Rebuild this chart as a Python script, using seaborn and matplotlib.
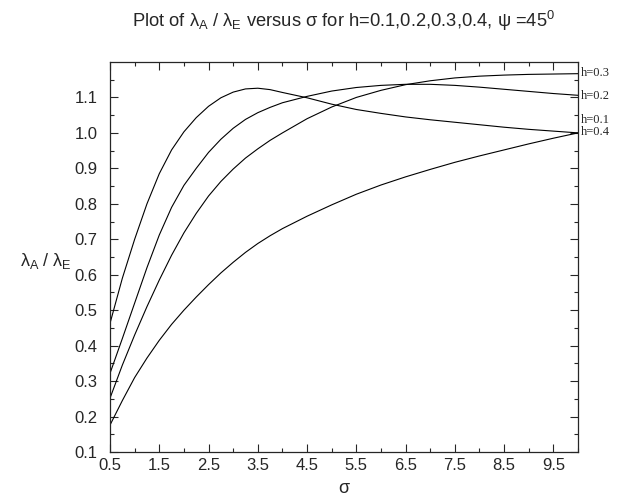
import numpy as np
import pandas as pd
import matplotlib
matplotlib.use("Agg")
import matplotlib.pyplot as plt
import seaborn as sns

# sigma grid and curves
sigma = [0.5, 0.75, 1.0, 1.25, 1.5, 1.75, 2.0, 2.25, 2.5, 2.75, 3.0, 3.25, 3.5, 3.75, 4.0,
         4.5, 5.0, 5.5, 6.0, 6.5, 7.0, 7.5, 8.0, 8.5, 9.0, 9.5, 10.0]
ratio_h01 = [0.463, 0.59, 0.70, 0.80, 0.885, 0.952, 1.003, 1.043, 1.075, 1.099, 1.115, 1.124, 1.126, 1.122, 1.114,
             1.099, 1.081, 1.066, 1.055, 1.045, 1.037, 1.030, 1.023, 1.016, 1.010, 1.005, 1.000]
ratio_h02 = [0.322, 0.42, 0.52, 0.62, 0.712, 0.79, 0.852, 0.90, 0.945, 0.982, 1.013, 1.038, 1.057, 1.072, 1.085,
             1.103, 1.118, 1.128, 1.134, 1.137, 1.137, 1.134, 1.129, 1.123, 1.117, 1.111, 1.106]
ratio_h03 = [0.252, 0.345, 0.43, 0.51, 0.585, 0.655, 0.718, 0.773, 0.822, 0.863, 0.898, 0.929, 0.955, 0.979, 1.00,
             1.04, 1.073, 1.10, 1.12, 1.136, 1.147, 1.155, 1.160, 1.163, 1.165, 1.166, 1.167]
ratio_h04 = [0.176, 0.245, 0.31, 0.365, 0.415, 0.46, 0.50, 0.537, 0.572, 0.605, 0.635, 0.663, 0.688, 0.71, 0.73,
             0.765, 0.797, 0.827, 0.853, 0.876, 0.897, 0.917, 0.935, 0.952, 0.969, 0.985, 1.000]
h_labels = ['h=0.1', 'h=0.2', 'h=0.3', 'h=0.4']
label_y = [1.035, 1.103, 1.168, 1.003]

curves = [ratio_h01, ratio_h02, ratio_h03, ratio_h04]
df = pd.concat([pd.DataFrame({'sigma': sigma, 'ratio': c, 'h': lab})
                for c, lab in zip(curves, h_labels)])

sns.set_style('ticks')
plt.rcParams['font.family'] = ['Liberation Sans', 'DejaVu Sans']
plt.rcParams['mathtext.fontset'] = 'custom'
plt.rcParams['mathtext.rm'] = 'Liberation Sans'
plt.rcParams['mathtext.it'] = 'Liberation Sans'

fig = plt.figure(figsize=(6.23, 4.99), dpi=100)
ax = fig.add_axes([0.1766, 0.0942, 0.7512, 0.7816])

sns.lineplot(data=df, x='sigma', y='ratio', hue='h',
             palette=['black'] * 4, linewidth=0.8, legend=False, ax=ax)

ax.set_xlim(0.5, 10.0)
ax.set_ylim(0.1, 1.2)
ax.set_xticks(np.arange(0.5, 10.0, 1.0))
ax.set_xticks(np.arange(1.0, 10.01, 1.0), minor=True)
ax.set_yticks(np.arange(0.1, 1.15, 0.1))
ax.set_yticks(np.arange(0.15, 1.2, 0.1), minor=True)
ax.set_xticklabels([f'{v:.1f}' for v in np.arange(0.5, 10.0, 1.0)])
ax.set_yticklabels([f'{v:.1f}' for v in np.arange(0.1, 1.15, 0.1)])
ax.tick_params(which='both', direction='in', top=True, right=True,
               labelsize=12, width=0.8)
ax.tick_params(axis='y', which='major', pad=9)
ax.tick_params(axis='x', which='major', pad=4)
ax.tick_params(which='major', length=6)
ax.tick_params(which='minor', length=3)
for s in ax.spines.values():
    s.set_linewidth(0.9)

ax.set_xlabel(r'$\sigma$', fontsize=13, va='center')
ax.xaxis.set_label_coords(0.5, -0.093)
ax.set_ylabel(r'$\lambda_{\rm A}\ /\ \lambda_{\rm E}$', fontsize=13,
              rotation=0, va='center', ha='center')
ax.yaxis.set_label_coords(-0.137, 0.49)

for lab, yv in zip(h_labels, label_y):
    ax.text(10.06, yv, lab, fontsize=9, family='Liberation Serif',
            va='center', ha='left', clip_on=False)

fig.text(0.552, 0.958,
         r'Plot of $\lambda_{\rm A}$ / $\lambda_{\rm E}$ versus $\sigma$ for '
         r'h=0.1,0.2,0.3,0.4, $\psi$ =45$^{\rm 0}$',
         fontsize=13.2, ha='center', va='center')

fig.savefig('out.png', dpi=100)
